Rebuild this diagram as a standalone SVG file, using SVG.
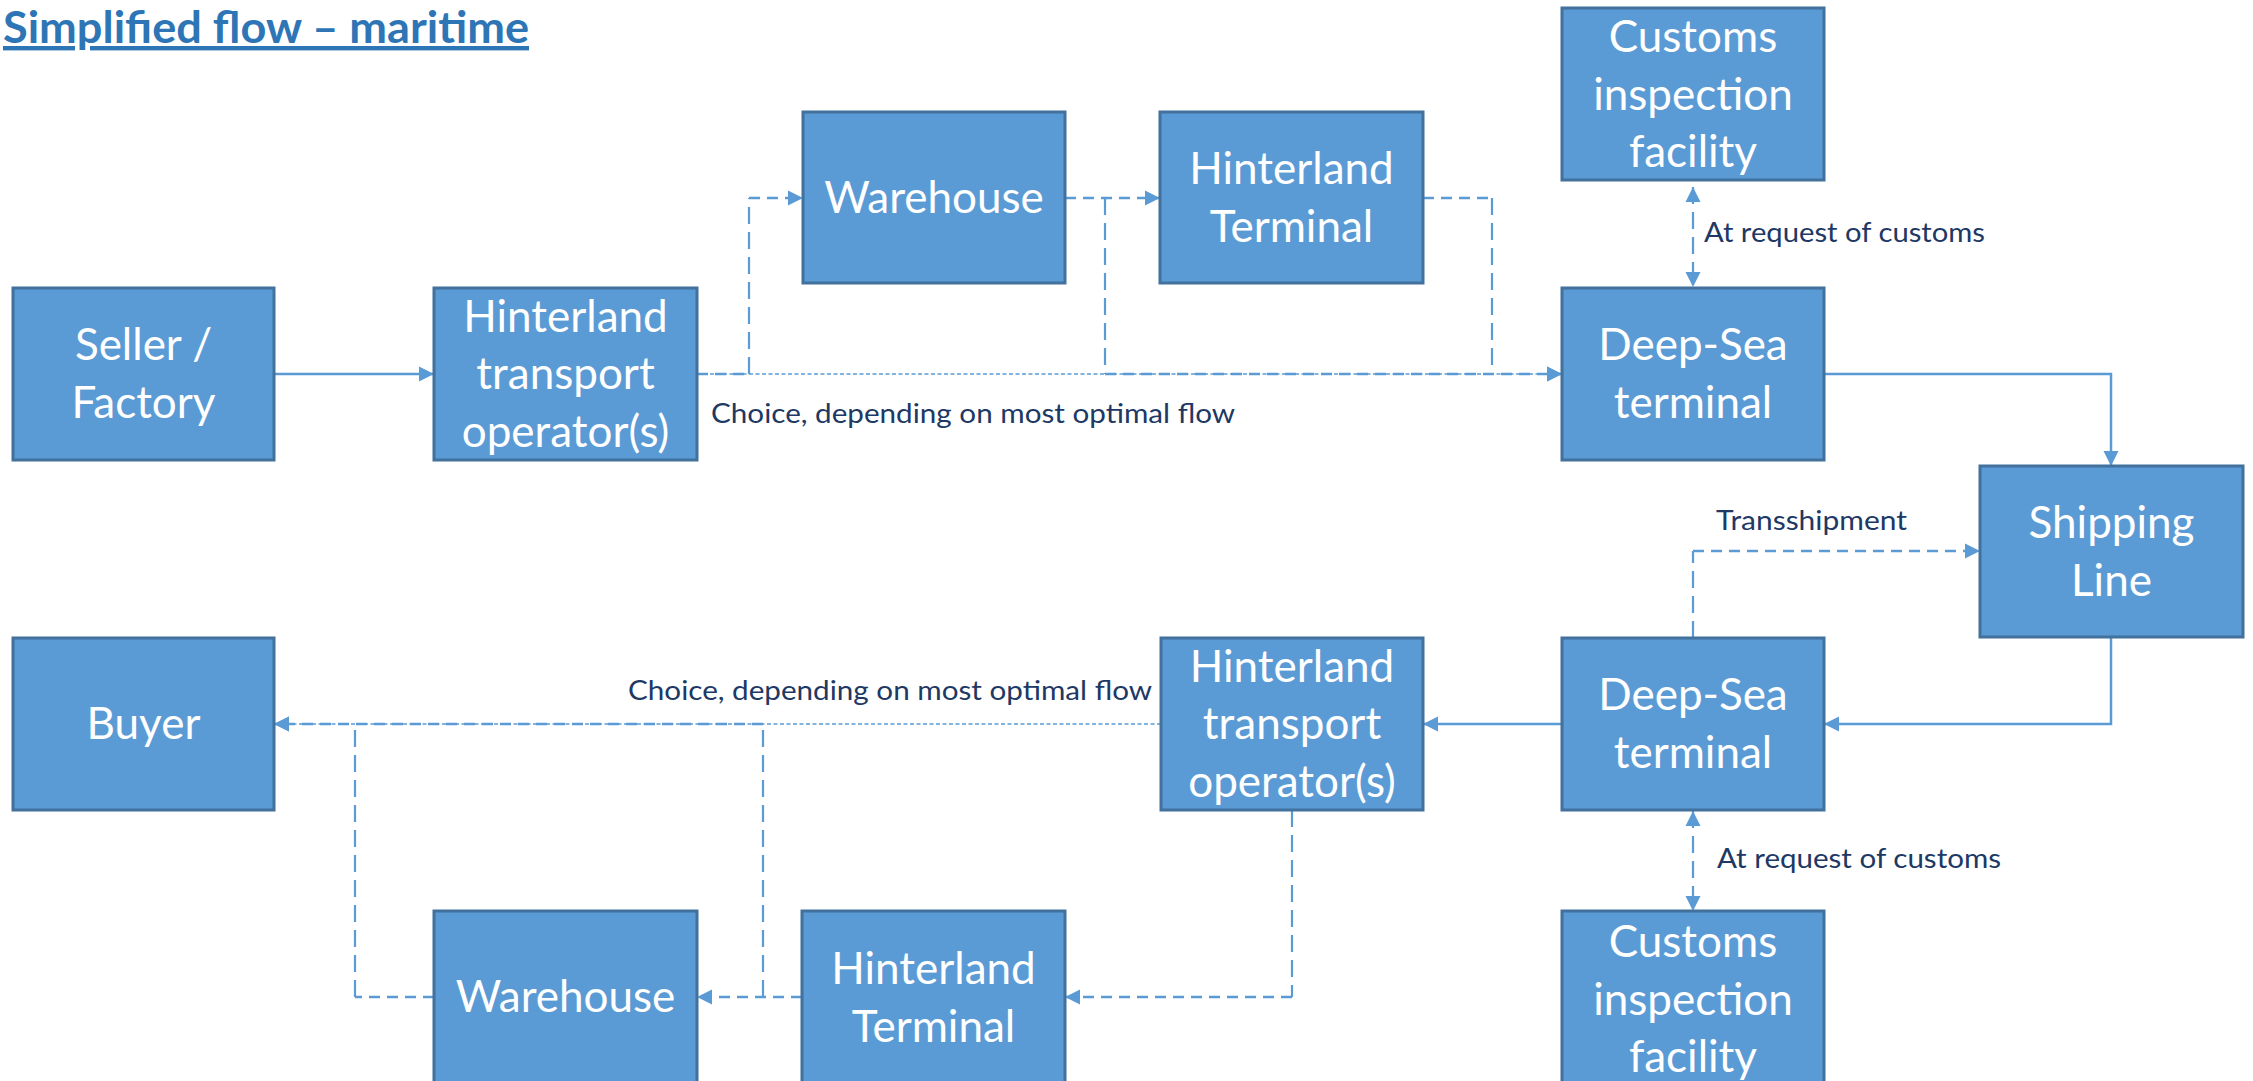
<svg xmlns="http://www.w3.org/2000/svg" width="2253" height="1081" viewBox="0 0 2253 1081">
<style>
.box{fill:#5B9BD5;stroke:#41719C;stroke-width:3}
.nt{font-family:Lato,"Open Sans",sans-serif;font-size:44px;fill:#FFFFFF;text-anchor:middle}
.lbl{font-family:Lato,"Open Sans",sans-serif;font-size:27px;fill:#203864}
.title{font-family:Lato,"Open Sans",sans-serif;font-size:44px;font-weight:bold;fill:#2E75B6}
.solid{fill:none;stroke:#5B9BD5;stroke-width:2.5}
.dash{fill:none;stroke:#5B9BD5;stroke-width:2.7;stroke-dasharray:11 7}
.ldash{fill:none;stroke:#5B9BD5;stroke-width:2.2;stroke-dasharray:17 8}
.dot{fill:none;stroke:#5B9BD5;stroke-width:1.7;stroke-dasharray:4 2.5}
</style>
<defs>
<marker id="ah" markerUnits="userSpaceOnUse" markerWidth="16" markerHeight="16" refX="15" refY="8" orient="auto">
<path d="M0,0.5 L15,8 L0,15.5 z" fill="#5B9BD5"/>
</marker>
<marker id="ahs" markerUnits="userSpaceOnUse" markerWidth="16" markerHeight="16" refX="15" refY="8" orient="auto-start-reverse">
<path d="M0,0.5 L15,8 L0,15.5 z" fill="#5B9BD5"/>
</marker>
</defs>
<rect width="2253" height="1081" fill="#FFFFFF"/>
<text class="title" x="3" y="43" textLength="526" lengthAdjust="spacingAndGlyphs" text-decoration="underline">Simplified flow – maritime</text>

<g id="connectors">
<line class="solid" x1="274" y1="374" x2="434" y2="374" marker-end="url(#ah)"/>
<line class="dot" x1="697" y1="374" x2="1562" y2="374" marker-end="url(#ah)"/>
<path class="dash" d="M697,374 H749"/>
<path class="ldash" d="M749,374 V198"/>
<path class="dash" d="M749,198 H803" marker-end="url(#ah)"/>
<line class="dash" x1="1065" y1="198" x2="1160" y2="198" marker-end="url(#ah)"/>
<path class="ldash" d="M1105,198 V374"/>
<path class="dash" d="M1105,374 H1562" marker-end="url(#ah)"/>
<path class="dash" d="M1423,198 H1492"/>
<path class="ldash" d="M1492,198 V374"/>
<path class="solid" d="M1824,374 H2111 V466" marker-end="url(#ah)"/>
<line class="ldash" x1="1693" y1="187" x2="1693" y2="287" marker-start="url(#ahs)" marker-end="url(#ah)"/>
<path class="solid" d="M2111,637 V724 H1824" marker-end="url(#ah)"/>
<line class="solid" x1="1562" y1="724" x2="1423" y2="724" marker-end="url(#ah)"/>
<path class="ldash" d="M1693,638 V551"/>
<path class="dash" d="M1693,551 H1980" marker-end="url(#ah)"/>
<line class="ldash" x1="1693" y1="811" x2="1693" y2="911" marker-start="url(#ahs)" marker-end="url(#ah)"/>
<line class="dot" x1="1161" y1="724" x2="274" y2="724" marker-end="url(#ah)"/>
<path class="ldash" d="M1292,810 V997"/>
<path class="dash" d="M1292,997 H1065" marker-end="url(#ah)"/>
<line class="dash" x1="802" y1="997" x2="697" y2="997" marker-end="url(#ah)"/>
<path class="ldash" d="M763,997 V724"/>
<path class="dash" d="M763,724 H274" marker-end="url(#ah)"/>
<path class="dash" d="M434,997 H355"/>
<path class="ldash" d="M355,997 V724"/>
</g>

<g id="seller">
<rect class="box" x="13" y="288" width="261" height="172"/>
<text class="nt" x="143.5" y="360">Seller /</text>
<text class="nt" x="143.5" y="418">Factory</text>
</g>
<g id="hto-top">
<rect class="box" x="434" y="288" width="263" height="172"/>
<text class="nt" x="565.5" y="331.5">Hinterland</text>
<text class="nt" x="565.5" y="389">transport</text>
<text class="nt" x="565.5" y="446.5">operator(s)</text>
</g>
<g id="warehouse-top">
<rect class="box" x="803" y="112" width="262" height="171"/>
<text class="nt" x="934" y="213">Warehouse</text>
</g>
<g id="hterminal-top">
<rect class="box" x="1160" y="112" width="263" height="171"/>
<text class="nt" x="1291.5" y="184">Hinterland</text>
<text class="nt" x="1291.5" y="242">Terminal</text>
</g>
<g id="customs-top">
<rect class="box" x="1562" y="8" width="262" height="172"/>
<text class="nt" x="1693" y="52">Customs</text>
<text class="nt" x="1693" y="109.5">inspection</text>
<text class="nt" x="1693" y="167">facility</text>
</g>
<g id="deepsea-top">
<rect class="box" x="1562" y="288" width="262" height="172"/>
<text class="nt" x="1693" y="360">Deep-Sea</text>
<text class="nt" x="1693" y="418">terminal</text>
</g>
<g id="shipping">
<rect class="box" x="1980" y="466" width="263" height="171"/>
<text class="nt" x="2111.5" y="537.5">Shipping</text>
<text class="nt" x="2111.5" y="595.5">Line</text>
</g>
<g id="deepsea-bottom">
<rect class="box" x="1562" y="638" width="262" height="172"/>
<text class="nt" x="1693" y="710">Deep-Sea</text>
<text class="nt" x="1693" y="768">terminal</text>
</g>
<g id="customs-bottom">
<rect class="box" x="1562" y="911" width="262" height="172"/>
<text class="nt" x="1693" y="957">Customs</text>
<text class="nt" x="1693" y="1014.5">inspection</text>
<text class="nt" x="1693" y="1072">facility</text>
</g>
<g id="hto-bottom">
<rect class="box" x="1161" y="638" width="262" height="172"/>
<text class="nt" x="1292" y="681.5">Hinterland</text>
<text class="nt" x="1292" y="739">transport</text>
<text class="nt" x="1292" y="796.5">operator(s)</text>
</g>
<g id="buyer">
<rect class="box" x="13" y="638" width="261" height="172"/>
<text class="nt" x="143.5" y="739">Buyer</text>
</g>
<g id="warehouse-bottom">
<rect class="box" x="434" y="911" width="263" height="172"/>
<text class="nt" x="565.5" y="1012">Warehouse</text>
</g>
<g id="hterminal-bottom">
<rect class="box" x="802" y="911" width="263" height="172"/>
<text class="nt" x="933.5" y="984">Hinterland</text>
<text class="nt" x="933.5" y="1042">Terminal</text>
</g>

<g id="labels">
<text class="lbl" x="711" y="423" textLength="524" lengthAdjust="spacingAndGlyphs">Choice, depending on most optimal flow</text>
<text class="lbl" x="628" y="700" textLength="524" lengthAdjust="spacingAndGlyphs">Choice, depending on most optimal flow</text>
<text class="lbl" x="1704" y="242" textLength="281" lengthAdjust="spacingAndGlyphs">At request of customs</text>
<text class="lbl" x="1717" y="868" textLength="284" lengthAdjust="spacingAndGlyphs">At request of customs</text>
<text class="lbl" x="1716" y="530" textLength="191" lengthAdjust="spacingAndGlyphs">Transshipment</text>
</g>
</svg>
